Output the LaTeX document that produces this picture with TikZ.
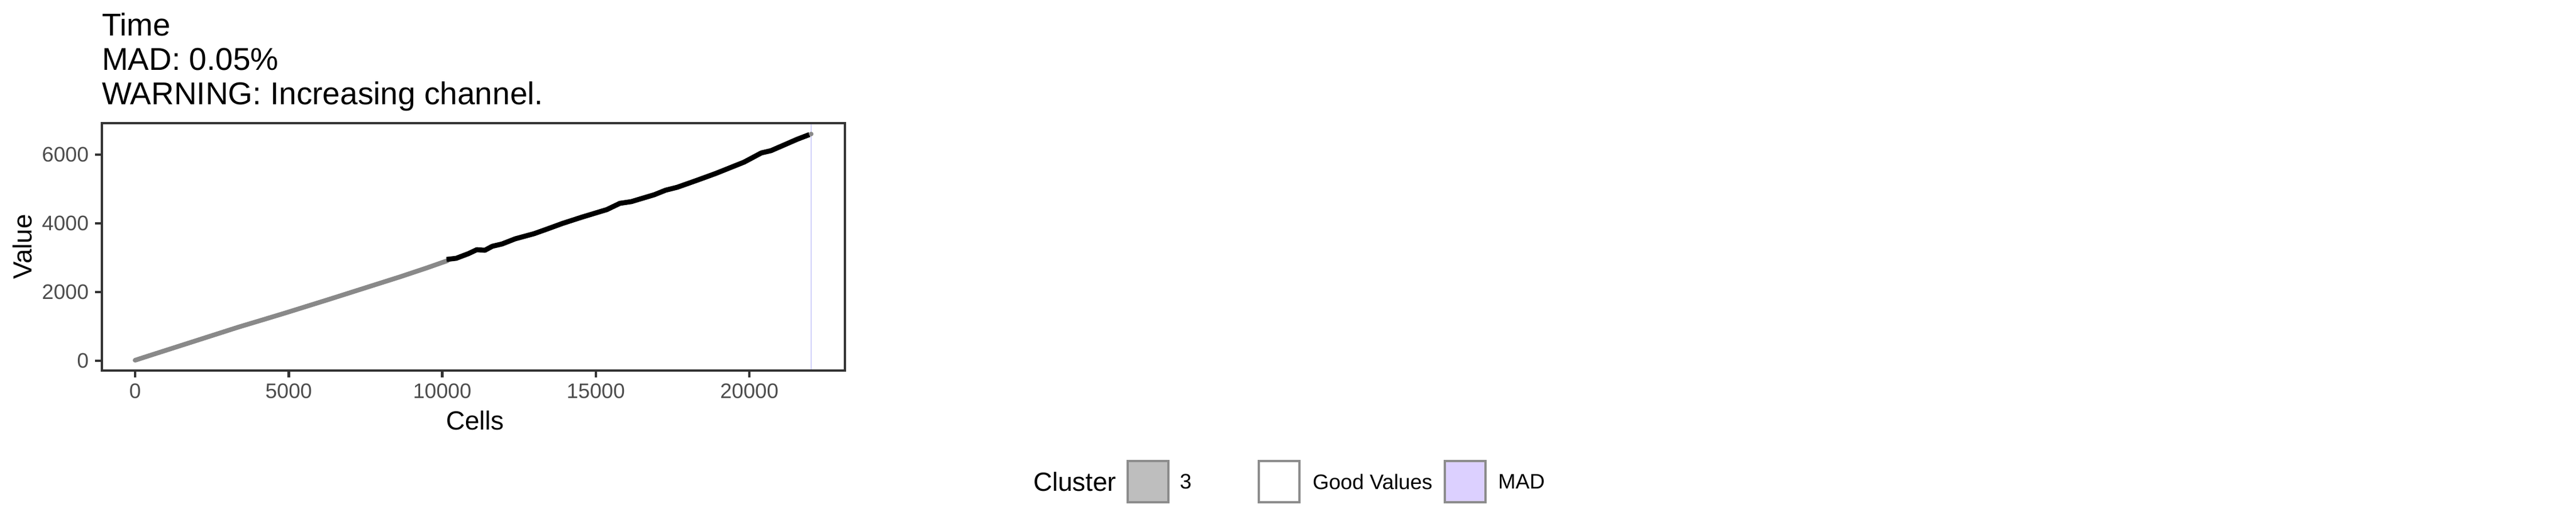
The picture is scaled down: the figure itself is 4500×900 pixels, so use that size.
\documentclass[tikz,border=0pt]{standalone}
\usepackage{fontspec}
\setmainfont{Liberation Sans}
\definecolor{tickgrey}{HTML}{4D4D4D}
\definecolor{framegrey}{HTML}{333333}
\definecolor{lowline}{HTML}{898989}
\definecolor{keyborder}{HTML}{8C8C8C}
\definecolor{keygrey}{HTML}{BEBEBE}
\definecolor{madfill}{HTML}{DCD0FF}
\definecolor{madline}{HTML}{D2D2FA}
\newcommand\myTitleFs{\fontsize{13.2}{15}\selectfont}
\newcommand\myAxisFs{\fontsize{11}{13}\selectfont}
\newcommand\myTickFs{\fontsize{8.8}{10}\selectfont}
\begin{document}
\begin{tikzpicture}[x=0.24pt,y=-0.24pt,
  txt/.style={inner sep=0pt,outer sep=0pt},
  titletxt/.style={txt,font=\myTitleFs,text=black,anchor=base west},
  ticklab/.style={txt,font=\myTickFs,text=tickgrey},
  axtitle/.style={txt,font=\myAxisFs,text=black},
  legtext/.style={txt,font=\myTickFs,text=black,anchor=west},
  legkey/.style={draw=keyborder,line width=1pt},
  tickmark/.style={draw=framegrey,line width=1.1pt},
  frameline/.style={draw=framegrey,line width=0.75pt}]
\useasboundingbox (0,0) rectangle (4500,900);
\fill[white] (0,0) rectangle (4500,900);

% title
\node[titletxt] (t1) at (178,62) {Time};
\node[titletxt] (t2) at (178,122) {MAD: 0.05\%};
\node[titletxt] (t3) at (178,182) {WARNING: Increasing channel.};

% MAD vertical line
\coordinate (mtop) at (1417,215);
\coordinate (mbot) at (1417,647);
\draw[madline,line width=0.3pt] (mtop) -- (mbot);

% data: grey part
\draw[lowline,line width=1.95pt,line cap=round,line join=round]
  (236,629) -- (267,619) -- (317,603) -- (367,587) -- (417,571) -- (467,556)
  -- (500,546) -- (577,522) -- (640,502) -- (700,483) -- (745,468) -- (782,455);
% data: black part
\draw[black,line width=2.1pt,line cap=butt,line join=round]
  (780,453) -- (797,451) -- (818,443) -- (833,436) -- (847,437) -- (860,430)
  -- (877,426) -- (900,417) -- (933,408) -- (950,402) -- (983,390) -- (1017,379)
  -- (1060,366) -- (1083,355) -- (1103,352) -- (1143,340) -- (1163,332)
  -- (1183,327) -- (1217,315) -- (1250,303) -- (1300,283) -- (1330,267)
  -- (1347,263) -- (1393,243) -- (1414,235);
\fill[lowline] (1417,234) circle (4);

% panel frame
\node[txt,minimum width=311.52pt,minimum height=103.68pt,anchor=north west] (panel) at (178,215) {};
\draw[frameline] (178,215) rectangle (1476,647);

% y ticks
\foreach \v/\yy in {0/630,2000/510,4000/390,6000/270}{
  \draw[tickmark] (166,\yy) -- (178,\yy);
  \node[ticklab,anchor=east] (ytick\v) at (155,\yy) {\v};
}
% x ticks
\foreach \v/\xx in {0/236,5000/504.3,10000/772.5,15000/1040.8,20000/1309}{
  \draw[tickmark] (\xx,647) -- (\xx,659);
  \node[ticklab,anchor=north] (xtick\v) at (\xx,670) {\v};
}

% axis titles
\node[axtitle,anchor=north] (xlab) at (830,717) {Cells};
\node[axtitle,rotate=90,anchor=center] (ylab) at (39,431) {Value};

% legend
\node[axtitle,anchor=west] (legtitle) at (1805,841) {Cluster};
\draw[legkey,fill=keygrey] (1970,805) rectangle (2041,877);
\node[legtext] (lab3) at (2061,841) {3};
\draw[legkey,fill=white] (2199,805) rectangle (2270,877);
\node[legtext] (labgood) at (2293,841) {Good Values};
\draw[legkey,fill=madfill] (2524,805) rectangle (2595,877);
\node[legtext] (labmad) at (2617,841) {MAD};
\end{tikzpicture}
\end{document}
